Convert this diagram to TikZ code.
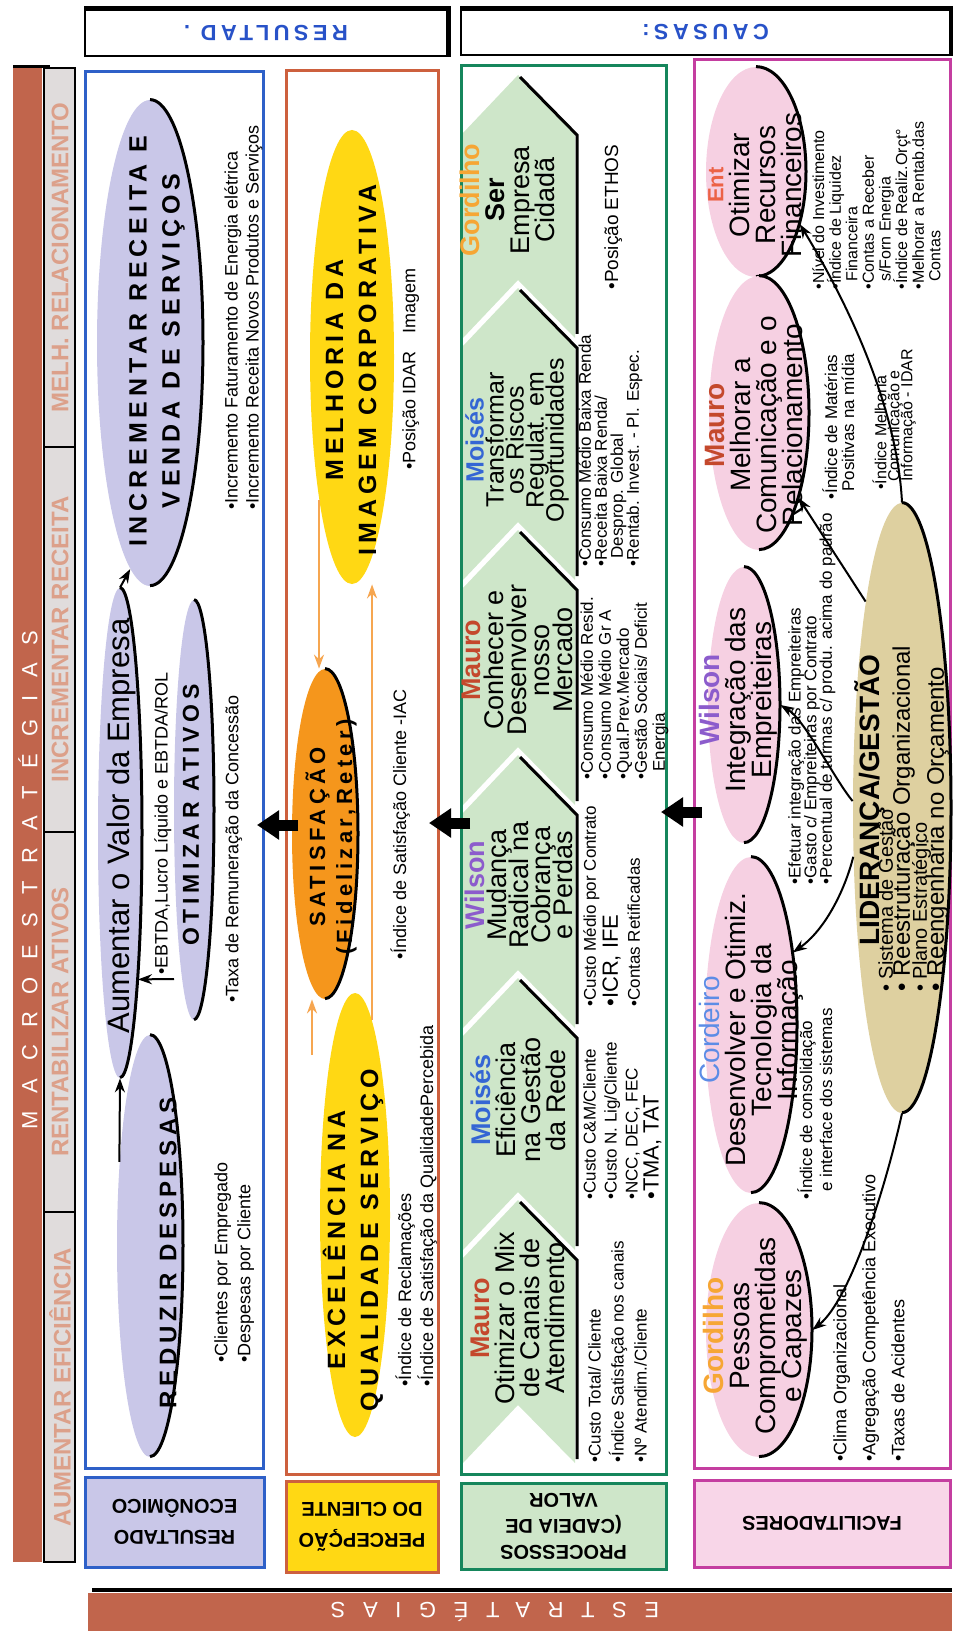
\documentclass[tikz,border=0pt]{standalone}
\usepackage{fontspec}
\setmainfont{Liberation Sans}
\newfontfamily\widefont[LetterSpace=20]{Liberation Sans}
\newfontfamily\bandfont[LetterSpace=80]{Liberation Sans}
\usetikzlibrary{shapes.geometric,arrows.meta}
\lineskiplimit=-\maxdimen

\definecolor{brownbar}{RGB}{193,101,76}
\definecolor{segfill}{RGB}{224,220,220}
\definecolor{segink}{RGB}{220,160,138}
\definecolor{blueframe}{RGB}{46,96,200}
\definecolor{orangeframe}{RGB}{205,96,62}
\definecolor{greenframe}{RGB}{22,134,92}
\definecolor{magframe}{RGB}{196,62,160}
\definecolor{lavender}{RGB}{201,199,232}
\definecolor{sunyellow}{RGB}{255,216,20}
\definecolor{satorange}{RGB}{245,150,28}
\definecolor{chevgreen}{RGB}{206,230,201}
\definecolor{rosepink}{RGB}{246,208,226}
\definecolor{liderTan}{RGB}{222,208,160}
\definecolor{labelpink}{RGB}{248,214,232}
\definecolor{headblue}{RGB}{40,82,200}
\definecolor{mauro}{RGB}{196,72,44}
\definecolor{moises}{RGB}{52,102,212}
\definecolor{wilson}{RGB}{140,92,204}
\definecolor{gordilho}{RGB}{246,166,52}
\definecolor{entcol}{RGB}{236,98,70}
\definecolor{cordeiro}{RGB}{92,140,230}
\definecolor{orangeline}{RGB}{246,166,80}

\tikzset{
  colframe/.style={line width=1.5pt},
  oval/.style={ellipse, inner sep=0pt},
  rim/.style={line width=1.5pt},
  bigtitle/.style={rotate=90, align=center, font=\widefont\bfseries\fontsize{12.5}{16.5}\selectfont},
  chevtext/.style={rotate=90, align=center, font=\fontsize{13.5}{11}\selectfont},
  ovaltext/.style={rotate=90, align=center, font=\fontsize{14}{13}\selectfont},
  kpi/.style={rotate=90, align=left, anchor=north west, inner sep=0pt, font=\fontsize{9}{10.5}\selectfont},
  segtext/.style={rotate=90, text=segink, font=\bfseries\fontsize{12}{13}\selectfont},
  labelbox/.style={line width=1.5pt, rotate=180, align=center, inner sep=0pt, font=\bfseries\fontsize{10}{15.5}\selectfont},
  headbox/.style={draw, line width=1pt, rotate=180, text=headblue, inner sep=0pt, font=\widefont\bfseries\fontsize{11}{11}\selectfont},
  link/.style={line width=1pt, -{Stealth[length=7pt, width=5pt]}},
  orangelink/.style={orangeline, line width=1pt, -{Stealth[length=7pt, width=5pt]}},
  bigarrow/.style={line width=5.5pt, -{Triangle[length=11pt, width=14pt]}}
}

\begin{document}
\begin{tikzpicture}[x=0.5pt, y=-0.5pt]
\useasboundingbox (0,0) rectangle (952,1631);

% Macroestrategias
\fill[brownbar] (13,67) rectangle (42,1562);
\draw[line width=1.5pt] (13,67) -- (50,67);
\node[rotate=90, text=white, font=\bandfont\fontsize{11}{11}\selectfont] (macro) at (28,880) {MACROESTRATÉGIAS};
\foreach \ya/\yb/\seg in {68/447/MELH. RELACIONAMENTO, 447/832/INCREMENTAR RECEITA, 832/1212/RENTABILIZAR ATIVOS, 1212/1562/AUMENTAR EFICIÊNCIA}{
  \draw[fill=segfill, line width=1pt] (44,\ya) rectangle (75,\yb);
  \node[segtext] (seg\ya) at (60,{(\ya+\yb)/2}) {\seg};
}

% Headers
\node[headbox, minimum width=181pt, minimum height=23pt] (resbox) at (266,33) {RESULTAD .};
\draw[line width=2.5pt] (resbox.south east) -- (resbox.south west) -- (resbox.north west);
\node[headbox, minimum width=244.5pt, minimum height=22.5pt] (caubox) at (705.5,32.5) {CAUSAS:};
\draw[line width=2.5pt] (caubox.south east) -- (caubox.south west) -- (caubox.north west);

% Column frames
\draw[colframe, draw=blueframe] (85,72) rectangle (263,1468);
\draw[colframe, draw=orangeframe] (286,71) rectangle (438,1474);
\draw[colframe, draw=greenframe] (461,66) rectangle (666,1474);
\draw[colframe, draw=magframe] (694,60) rectangle (950,1468);

% Perspective labels
\node[labelbox, draw=blueframe, fill=lavender, minimum width=89.5pt, minimum height=45pt] (econ) at (174.5,1522) {RESULTADO\\ECONÔMICO};
\node[labelbox, draw=orangeframe, fill=sunyellow, minimum width=76pt, minimum height=45.5pt] (percep) at (362,1526.5) {PERCEPÇÃO\\DO CLIENTE};
\node[labelbox, draw=greenframe, fill=chevgreen, minimum width=102.5pt, minimum height=43pt, font=\bfseries\fontsize{10}{13}\selectfont] (proc) at (563.5,1526) {PROCESSOS\\(CADEIA DE\\VALOR};
\node[labelbox, draw=magframe, fill=labelpink, minimum width=128pt, minimum height=43.5pt] (facil) at (822,1523.5) {FACILITADORES};

% Bottom band
\fill[brownbar] (88,1593) rectangle (952,1631);
\draw[line width=2pt] (92,1590) -- (952,1590);
\node[rotate=180, text=white, font=\bandfont\fontsize{11}{11}\selectfont] (estr) at (495,1612) {ESTRATÉGIAS};

% Resultado economico
\node[oval, fill=lavender, minimum width=53pt, minimum height=243pt] (incr) at (150,343) {};
\draw[rim] (incr.north) arc[start angle=90, end angle=-90, x radius=26.5pt, y radius=121.5pt];
\node[oval, fill=lavender, minimum width=22pt, minimum height=245pt] (aum) at (120,833) {};
\draw[rim] (aum.north) arc[start angle=90, end angle=-90, x radius=11pt, y radius=122.5pt];
\node[oval, fill=lavender, minimum width=20pt, minimum height=210pt] (otim) at (194,810) {};
\draw[rim] (otim.north) arc[start angle=90, end angle=-90, x radius=10pt, y radius=105pt];
\node[oval, fill=lavender, minimum width=33pt, minimum height=211pt] (reduz) at (150,1246) {};
\draw[rim] (reduz.north) arc[start angle=90, end angle=-90, x radius=16.5pt, y radius=105.5pt];

\node[bigtitle] (incrtxt) at (157,341) {INCREMENTAR RECEITA E\\VENDA DE SERVIÇOS};
\node[rotate=90, font=\fontsize{15.5}{16}\selectfont] (aumtxt) at (121,826) {Aumentar o Valor da Empresa};
\node[bigtitle, font=\widefont\bfseries\fontsize{11.5}{12}\selectfont] (otimtxt) at (191,815) {OTIMIZAR ATIVOS};
\node[bigtitle, font=\widefont\bfseries\fontsize{12}{12}\selectfont] (reduztxt) at (168,1253) {REDUZIR DESPESAS};

\node[kpi] (incrkpi) at (224,510) {•Incremento Faturamento de Energia elétrica\\•Incremento Receita Novos Produtos e Serviços};
\node[kpi] (ebtda) at (154,975) {•EBTDA,Lucro Líquido e EBTDA/ROL};
\node[kpi] (taxa) at (225,1003) {•Taxa de Remuneração da Concessão};
\node[kpi, font=\fontsize{9}{11.5}\selectfont] (reduzkpi) at (214,1363) {•Clientes por Empregado\\•Despesas por Cliente};

\coordinate (otimtail) at (174,979);
\draw[link] (reduz.110) -- (aum.south);
\draw[link] (otimtail) -- (aum.-83);
\draw[link] (aum.north) -- (incr.-95);

% Percepcao do cliente
\node[oval, fill=sunyellow, minimum width=42pt, minimum height=227pt] (melh) at (352,357) {};
\node[oval, fill=satorange, minimum width=33pt, minimum height=165pt] (satis) at (325,834) {};
\draw[rim] (satis.north) arc[start angle=90, end angle=-90, x radius=16.5pt, y radius=82.5pt];
\node[oval, fill=sunyellow, minimum width=35pt, minimum height=222pt] (excel) at (355,1215) {};

\node[bigtitle] (melhtxt) at (351,370) {MELHORIA DA\\IMAGEM CORPORATIVA};
\node[bigtitle, font=\widefont\bfseries\fontsize{11}{13.5}\selectfont] (satistxt) at (331,837) {SATISFAÇÃO\\(Fidelizar,Reter)};
\node[bigtitle] (exceltxt) at (353,1240) {EXCELÊNCIA NA\\QUALIDADE SERVIÇO};

\node[kpi] (melhkpi) at (402,470) {•Posição IDAR\quad Imagem};
\node[kpi] (satkpi) at (390,960) {•Índice de Satisfação Cliente -IAC};
\node[kpi, font=\fontsize{9}{11}\selectfont] (excelkpi) at (395,1387) {•Índice de Reclamações\\•Índice de Satisfação da QualidadePercebida};

\coordinate (exceltail) at (312,1055);
\draw[orangelink] (melh.-103) -- (melh.-103 |- satis.north);
\draw[orangelink] (excel.85) -- (excel.85 |- melh.south);
\draw[orangelink] (exceltail) -- (exceltail |- satis.south);

% Processos (cadeia de valor)
\foreach \ta/\tb in {75/288, 288/530, 530/755, 755/978, 978/1200, 1200/1413}{
  \fill[chevgreen] (463,\ta+58) -- (518,\ta) -- (575,\ta+58) -- (575,\tb+50) -- (518,\tb-8) -- (463,\tb+50) -- cycle;
  \draw[rim] (520,\ta+2) -- (577,\ta+60) -- (577,\tb+46);
}
\node[chevtext, font=\fontsize{13.5}{12.5}\selectfont] (ch1) at (507,200) {\textcolor{gordilho}{\bfseries Gordilho}\\{\bfseries Ser}\\Empresa\\Cidadã};
\node[chevtext, font=\fontsize{12.5}{10}\selectfont] (ch2) at (517,440) {\textcolor{moises}{\bfseries Moisés}\\Transformar\\os Riscos\\Regulat. em\\Oportunidades};
\node[chevtext, font=\fontsize{13.5}{11.5}\selectfont] (ch3) at (517,660) {\textcolor{mauro}{\bfseries Mauro}\\Conhecer e\\Desenvolver\\nosso\\Mercado};
\node[chevtext] (ch4) at (519,885) {\textcolor{wilson}{\bfseries Wilson}\\Mudança\\Radical na\\Cobrança\\e Perdas};
\node[chevtext, font=\fontsize{13.5}{12.5}\selectfont] (ch5) at (518,1100) {\textcolor{moises}{\bfseries Moisés}\\Eficiência\\na Gestão\\da Rede};
\node[chevtext, font=\fontsize{13.5}{12.5}\selectfont] (ch6) at (518,1318) {\textcolor{mauro}{\bfseries Mauro}\\Otimizar o Mix\\de Canais de\\Atendimento};

\node[kpi, font=\fontsize{9.5}{10}\selectfont] (ethos) at (604,290) {•Posição ETHOS};
\node[kpi, font=\fontsize{8.5}{8}\selectfont] (transkpi) at (578,567) {•Consumo Médio Baixa Renda\\•Receita Baixa Renda/\\\hspace{4pt}Desprop. Global\\•Rentab. Invest. - Pl. Espec.};
\node[kpi, font=\fontsize{8.5}{9}\selectfont] (conhkpi) at (580,780) {•Consumo Médio Resid.\\•Consumo Médio Gr A\\•Qual.Prev.Mercado\\•Gestão Sociais/ Deficit\\\hspace{4pt}Energia};
\node[kpi, font=\fontsize{8.5}{11}\selectfont] (mudkpi) at (583,1007) {•Custo Médio por Contrato\\{\fontsize{11}{11}\selectfont •ICR, IFE}\\•Contas Retificadas};
\node[kpi, font=\fontsize{8.5}{10.5}\selectfont] (efickpi) at (583,1200) {•Custo C\&M/Cliente\\•Custo N. Lig/Cliente\\•NCC, DEC, FEC\\{\fontsize{11}{11}\selectfont •TMA, TAT}};
\node[kpi, font=\fontsize{8.5}{11.5}\selectfont] (otimkpi) at (588,1463) {•Custo Total/ Cliente\\•Índice Satisfação nos canais\\•Nº Atendim./Cliente};

% Facilitadores
\node[oval, fill=rosepink, minimum width=50pt, minimum height=105pt] (ent) at (756,172) {};
\draw[rim] (ent.north) arc[start angle=90, end angle=-90, x radius=25pt, y radius=52.5pt];
\node[oval, fill=rosepink, minimum width=50pt, minimum height=137pt] (comm) at (759,413) {};
\draw[rim] (comm.north) arc[start angle=90, end angle=-90, x radius=25pt, y radius=68.5pt];
\node[oval, fill=rosepink, minimum width=36pt, minimum height=138pt] (empr) at (744,705) {};
\draw[rim] (empr.north) arc[start angle=90, end angle=-90, x radius=18pt, y radius=69pt];
\node[oval, fill=rosepink, minimum width=46pt, minimum height=168pt] (cord) at (751,1025) {};
\draw[rim] (cord.north) arc[start angle=90, end angle=-90, x radius=23pt, y radius=84pt];
\node[oval, fill=rosepink, minimum width=53pt, minimum height=127pt] (pess) at (759,1330) {};
\draw[rim] (pess.north) arc[start angle=90, end angle=-90, x radius=26.5pt, y radius=63.5pt];
\node[oval, fill=liderTan, minimum width=49pt, minimum height=305pt] (lider) at (902,808) {};
\draw[rim] (lider.north) arc[start angle=90, end angle=-90, x radius=24.5pt, y radius=152.5pt];

\node[ovaltext] (enttxt) at (755,185) {\textcolor{entcol}{\bfseries\fontsize{11}{11}\selectfont Ent}\\Otimizar\\Recursos\\Financeiros};
\node[ovaltext] (commtxt) at (754,425) {\textcolor{mauro}{\bfseries Mauro}\\Melhorar a\\Comunicação e o\\Relacionamento};
\node[ovaltext] (emprtxt) at (738,700) {\textcolor{wilson}{\bfseries Wilson}\\Integração das\\Empreiteiras};
\node[ovaltext] (cordtxt) at (751,1030) {\textcolor{cordeiro}{Cordeiro}\\Desenvolver e Otimiz.\\Tecnologia da\\Informação};
\node[ovaltext] (pesstxt) at (755,1336) {\textcolor{gordilho}{\bfseries Gordilho}\\Pessoas\\Comprometidas\\e Capazes};
\node[rotate=90, font=\bfseries\fontsize{14}{14}\selectfont] (lidertxt) at (870,800) {LIDERANÇA/GESTÃO};
\node[kpi, font=\fontsize{12}{8.5}\selectfont] (liderlist) at (878,992) {{\fontsize{10}{10}\selectfont • Sistema de Gestão}\\• Reestruturação Organizacional\\{\fontsize{10}{10}\selectfont • Plano Estratégico}\\• Reengenharia no Orçamento};

\node[kpi, font=\fontsize{8}{8.3}\selectfont] (entkpi) at (812,290) {•Nível do Investimento\\•Índice de Liquidez\\\hspace{4pt}Financeira\\•Contas a Receber\\\hspace{4pt}s/Forn Energia\\•Índice de Realiz.Orçt°\\•Melhorar a Rentab.das\\\hspace{4pt}Contas};
\node[kpi, font=\fontsize{8.5}{8.5}\selectfont] (commkpi) at (822,500) {•Índice de Matérias\\\hspace{4pt}Positivas na mídia};
\node[kpi, font=\fontsize{8}{6.5}\selectfont] (commkpi2) at (872,490) {•Índice Melhoria\\\hspace{4pt}Comunicação e\\\hspace{4pt}Informação - IDAR};
\node[kpi, font=\fontsize{8.5}{7.8}\selectfont] (emprkpi) at (788,885) {•Efetuar integração das Empreiteiras\\•Gasto c/ Empreiteiras por Contrato\\•Percentual de turmas c/ produ. acima do padrão};
\node[kpi, font=\fontsize{8.5}{10}\selectfont] (cordkpi) at (797,1200) {•Índice de consolidação\\\hspace{4pt}e interface dos sistemas};
\node[kpi, font=\fontsize{9}{14.5}\selectfont] (pesskpi) at (833,1462) {•Clima Organizacional\\•Agregação Competência Executivo\\•Taxas de Acidentes};

\draw[link] (lider.north) .. controls (897,400) and (840,290) .. (ent.-50);
\draw[link] (lider.100) -- (comm.-65);
\draw[link] (lider.172) .. controls (835,780) and (805,720) .. (empr.east);
\draw[link] (lider.225) .. controls (845,890) and (825,930) .. (cord.60);
\draw[link] (lider.south) .. controls (885,1190) and (850,1300) .. (pess.east);

% Arrows between perspectives
\coordinate (gap1a) at (298,825); \coordinate (gap1b) at (257,825);
\coordinate (gap2a) at (470,823); \coordinate (gap2b) at (429,823);
\coordinate (gap3a) at (702,812); \coordinate (gap3b) at (661,812);
\foreach \g in {1,2,3}
  \draw[bigarrow] (gap\g a) -- (gap\g b);
\end{tikzpicture}
\end{document}
